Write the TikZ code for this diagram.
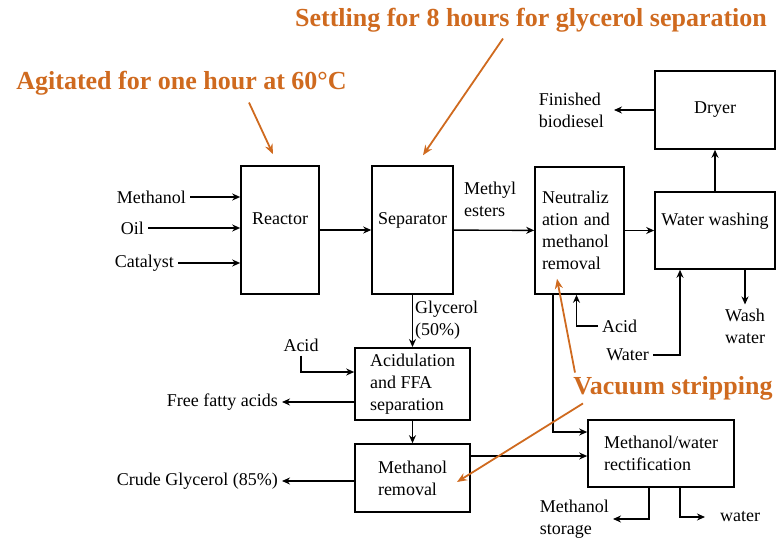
\documentclass[tikz,border=0pt]{standalone}
\usepackage{fontspec}
\setmainfont{Liberation Serif}
\usetikzlibrary{arrows.meta}
\definecolor{morange}{RGB}{207,106,31}
\tikzset{unit/.style = {draw, line width=1.6pt, inner sep=6pt, align=left},
         lbl/.style = {inner sep=4pt, align=left},
         flow/.style = {line width=1.4pt, -{Stealth[length=8pt,width=7pt]}},
         note/.style = {text=morange, font=\fontsize{26}{30}\selectfont\bfseries},
         notearrow/.style = {morange, line width=1.8pt, -{Stealth[length=10pt,width=8pt]}}}

\begin{document}
\begin{tikzpicture}[x=1pt, y=-1pt, font=\fontsize{18}{22}\selectfont]
  \useasboundingbox (0,0) rectangle (777,538);
  % process units
  \node [unit, minimum width=78, minimum height=128, text depth=22pt] (reactor) at (280,230) {Reactor};
  \node [unit, minimum width=79, minimum height=128, text depth=22pt] (sep) at (412.5,230) {Separator};
  \node [unit, minimum width=89, minimum height=127, text width=75pt] (neut) at (579.5,230.5) {Neutraliz\\ation and\\methanol\\removal};
  \node [unit, minimum width=120, minimum height=77, text depth=22pt] (wash) at (715,230.5) {Water washing};
  \node [unit, minimum width=120, minimum height=78] (dryer) at (715,110) {Dryer};
  \node [unit, minimum width=115, minimum height=72] (acidul) at (412.5,384) {Acidulation\\and FFA\\separation};
  \node [unit, minimum width=115, minimum height=68] (methrem) at (412.5,478) {Methanol\\removal};
  \node [unit, minimum width=146, minimum height=67] (rect) at (661,453.5) {Methanol/water\\rectification};
  % streams
  \node [lbl, anchor=east] (methanol) at (190,197) {Methanol};
  \node [lbl, anchor=east] (oil) at (148,228) {Oil};
  \node [lbl, anchor=east] (catalyst) at (178,263) {Catalyst};
  \node [lbl, anchor=west] (esters) at (460,199) {Methyl\\esters};
  \node [lbl, anchor=west] (glyc) at (411,320) {Glycerol\\(50\%)};
  \node [lbl] (acid1) at (301,345) {Acid};
  \node [lbl, anchor=east] (ffa) at (282,402) {Free fatty acids};
  \node [lbl, anchor=east] (crude) at (282,481) {Crude Glycerol (85\%)};
  \node [lbl, anchor=west] (acid2) at (598,326) {Acid};
  \node [lbl, anchor=east] (water) at (653,355) {Water};
  \node [lbl, align=center] (washw) at (745,326) {Wash\\water};
  \node [lbl, anchor=east, inner xsep=10pt] (fin) at (614,110) {Finished\\biodiesel};
  \node [lbl, anchor=east] (mstor) at (613,519) {Methanol\\storage};
  \node [lbl, anchor=west, inner xsep=15pt] (rwater) at (705,517) {water};

  \draw [flow] (methanol) -- (methanol -| reactor.west);
  \draw [flow] (oil) -- (oil -| reactor.west);
  \draw [flow] (catalyst) -- (catalyst -| reactor.west);
  \draw [flow] (reactor) -- (sep);
  \draw [flow] (sep) -- (neut);
  \draw [flow] (neut) -- (wash);
  \draw [flow] (wash) -- (dryer);
  \draw [flow] (dryer) -- (fin);
  \draw [flow] (washw.north |- wash.south) -- (washw);
  \draw [flow] (water) -| ([xshift=-35pt]wash.south);
  \draw [flow] (acid2) -| ([xshift=-3pt]neut.south);
  \draw [flow] (sep) -- (acidul);
  \draw [flow] (acidul) -- (methrem);
  \draw [flow] (acid1) |- ([yshift=12pt]acidul.west);
  \draw [flow] (acidul.west |- ffa) -- (ffa);
  \draw [flow] (methrem.west |- crude) -- (crude);
  \draw [flow] ([yshift=22pt]methrem.east) -- ([yshift=22pt]methrem.east -| rect.west);
  \draw [flow] ([xshift=-26.5pt]neut.south) |- ([yshift=21.5pt]rect.west);
  \draw [flow] ([xshift=-12pt]rect.south) |- (mstor);
  \draw [flow] ([xshift=19pt]rect.south) |- (rwater);

  % notes
  \node [note] (agit) at (181.5,83) {Agitated for one hour at 60°C};
  \node [note] (settle) at (531,20) {Settling for 8 hours for glycerol separation};
  \node [note] (vac) at (673,388) {Vacuum stripping};
  \draw [notearrow] ([xshift=67.5pt,yshift=-4pt]agit.south) -- ([xshift=-7pt,yshift=11pt]reactor.north);
  \draw [notearrow] ([xshift=-28pt,yshift=-3pt]settle.south) -- ([xshift=10.5pt,yshift=10pt]sep.north);
  \draw [notearrow] ([xshift=-98pt]vac.north) -- ([xshift=-22.5pt,yshift=16pt]neut.south);
  \draw [notearrow] ([xshift=-90pt]vac.south) -- ([xshift=44.5pt,yshift=-4pt]methrem.center);
\end{tikzpicture}
\end{document}
